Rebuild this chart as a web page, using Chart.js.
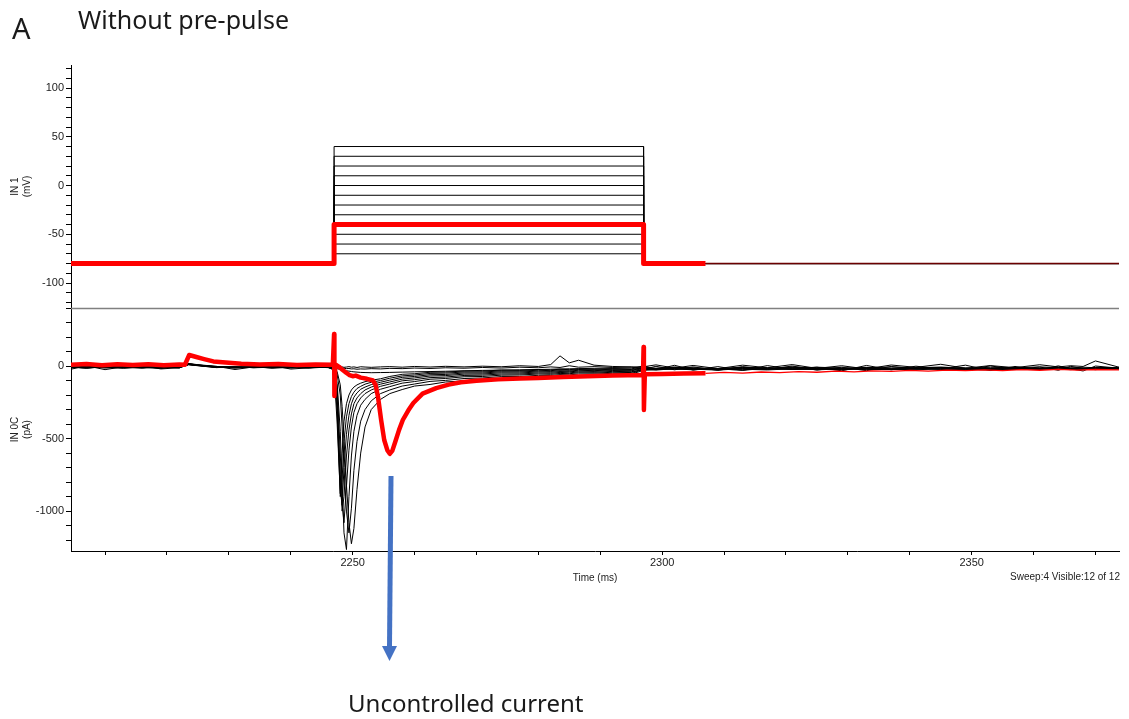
<!DOCTYPE html>
<html>
<head>
<meta charset="utf-8">
<title>Without pre-pulse</title>
<script src="https://cdn.jsdelivr.net/npm/chart.js@4.4.1/dist/chart.umd.min.js"></script>
<style>
  html, body { margin: 0; padding: 0; background: #fff; }
  #wrap { position: relative; width: 1129px; height: 719px; overflow: hidden; }
  #chart { position: absolute; left: 0; top: 0; }
  .label { position: absolute; white-space: nowrap; color: #1a1a1a; line-height: 1; }
  .big { font-family: "Noto Sans", sans-serif; }
  .small { font-family: "Liberation Sans", Arial, sans-serif; font-size: 10px; color: #222; }
  svg { position: absolute; left: 0; top: 0; }
</style>
</head>
<body>
<div id="wrap">
  <canvas id="chart" width="1129" height="719"></canvas>
  <div class="label big" style="left:12px; top:13px; font-size:29px;">A</div>
  <div class="label big" style="left:78px; top:7px; font-size:25px;">Without pre-pulse</div>
  <div class="label big" style="left:348px; top:691px; font-size:24px;">Uncontrolled current</div>
  <div class="label small" style="right:9px; top:572px;">Sweep:4 Visible:12 of 12</div>
  <svg width="1129" height="719">
    <line x1="391" y1="476" x2="389.5" y2="647" stroke="#4472C4" stroke-width="5"/>
    <polygon points="382,646 397,646 389.5,661" fill="#4472C4"/>
  </svg>
</div>

<script>
// ---- data ----

// x axis range (ms)
const timeMinMs = 2204.5;
const timeMaxMs = 2373.8;

// voltage protocol: holding -80 mV, 50 ms steps from -70 to +40 mV (12 sweeps)
const holdingMv = -80;
const stepOnMs = 2247;
const stepOffMs = 2297;
const stepLevelsMv = [-70, -60, -50, -40, -30, -20, -10, 0, 10, 20, 30, 40];
const highlightedSweep = 4; // sweep 4 = -40 mV, drawn in red
const highlightEndMs = 2307; // red drawn thick up to here, thin after

// shared time base for the black current sweeps (ms)
const sweepTimeMs = [
  2204.5, 2207, 2210, 2213, 2216, 2219, 2222, 2223.5, 2225, 2228, 2231, 2234, 2237, 2240, 2243, 2246,
  2247, 2247.5, 2248, 2248.3, 2248.6, 2249, 2249.4, 2249.8, 2250.2, 2250.7, 2251.3, 2252, 2253, 2254.5,
  2256, 2258, 2260, 2262.5, 2265, 2268, 2271, 2274, 2277, 2280, 2282, 2283.5, 2285, 2286.5, 2289, 2292, 2295,
  2297, 2299, 2302, 2305, 2309, 2313, 2317, 2321, 2325, 2329, 2333, 2337, 2341, 2345, 2349, 2353, 2357, 2361, 2364, 2366, 2368, 2370, 2373.8
];

// current (pA) for each black sweep, named by step level (mV)
const currentM70 = [
  -6, -10, -3, -8, -12, -4, -7, 10, 4, -3, -9, -5, -11, -6, -8, -4,
  -8, -5, -10, -6, -9, -7, -4, -8, -6, -10, -5, -7, -9, -6,
  -4, -8, -3, -7, -2, -6, -1, -5, 2, -3, 10, 70, 22, 40, 6, -3, -6,
  -5, 8, -14, 4, -18, 6, -12, 10, -16, 2, -20, 7, -9, 12, -15, 3, -11, 9, -6, 2, -3, 35, -8
];
const currentM60 = [
  -22, 2, -25, -4, 3, -20, -12, 18, 9, -2, -24, -6, 4, -21, -12, -3,
  -10, -12, -14, -16, -15, -18, -17, -20, -19, -22, -20, -21, -18, -20,
  -16, -18, -14, -17, -12, -15, -10, -14, -8, -12, -6, -10, 2, -8, -4, -10, -7,
  -22, -2, -26, -6, -30, -4, -24, 0, -28, -8, -32, -3, -20, -10, -27, 1, -23, -7, -29, -2, -18, -25, -9
];
const currentM50 = [
  -8, -14, -6, -12, -9, -15, -4, 16, 6, -8, -12, -6, -14, -9, -5, -11,
  -12, -18, -24, -28, -30, -33, -35, -38, -40, -42, -44, -45, -46, -45,
  -44, -42, -40, -38, -36, -33, -30, -28, -26, -24, -22, -20, -19, -18, -16, -15, -14,
  -10, -15, -8, -13, -17, -9, -12, -16, -8, -14, -11, -7, -13, -10, -15, -9, -12, -6, -11, -14, -8, -12, -10
];
const currentM30 = [
  -10, -4, -12, -7, -9, -14, -6, 14, 7, -5, -10, -8, -4, -11, -7, -9,
  -15, -40, -130, -280, -500, -820, -1080, -1225, -1120, -850, -600, -420, -300, -230,
  -190, -162, -138, -127, -110, -102, -90, -88, -78, -77, -71, -72, -66, -67, -61, -62, -56,
  -30, -24, -20, -26, -18, -22, -27, -19, -23, -17, -25, -21, -16, -24, -20, -18, -23, -15, -21, -19, -24, -17, -20
];
const currentM20 = [
  -7, -13, -5, -10, -14, -8, -11, 12, 5, -9, -4, -12, -8, -13, -6, -10,
  -15, -60, -200, -420, -700, -1000, -1150, -980, -720, -520, -380, -300, -240, -190,
  -165, -138, -124, -106, -99, -86, -82, -73, -72, -64, -65, -59, -61, -55, -56, -50, -52,
  -22, -28, -18, -25, -20, -29, -16, -24, -21, -27, -17, -23, -26, -19, -22, -28, -18, -24, -20, -25, -16, -23, -21
];
const currentM10 = [
  -11, -5, -9, -13, -6, -10, -8, 15, 8, -6, -11, -7, -12, -5, -9, -8,
  -20, -120, -450, -800, -1150, -1265, -900, -620, -450, -340, -270, -230, -190, -160,
  -142, -118, -107, -91, -86, -74, -72, -63, -62, -55, -57, -51, -53, -47, -49, -43, -45,
  -19, -25, -15, -22, -28, -18, -23, -14, -26, -20, -17, -24, -21, -15, -27, -19, -22, -16, -25, -18, -23, -20, -17
];
const currentP0 = [
  -9, -12, -6, -10, -8, -13, -5, 10, 3, -10, -6, -11, -7, -9, -12, -6,
  -20, -150, -600, -950, -1080, -830, -580, -420, -320, -260, -220, -190, -165, -140,
  -124, -102, -94, -80, -76, -65, -63, -55, -55, -48, -50, -44, -47, -41, -43, -37, -39,
  -26, -18, -23, -15, -21, -27, -17, -24, -19, -14, -22, -25, -18, -20, -15, -24, -21, -17, -23, -19, -14, -22, -18
];
const currentP10 = [
  -5, -11, -8, -4, -12, -7, -10, 13, 6, -4, -9, -6, -13, -8, -5, -10,
  -20, -200, -750, -1000, -900, -620, -440, -330, -260, -220, -190, -165, -145, -125,
  -110, -90, -82, -69, -66, -56, -55, -47, -48, -41, -43, -38, -40, -35, -37, -31, -33,
  -17, -23, -13, -20, -25, -16, -21, -12, -19, -24, -15, -22, -18, -13, -20, -23, -16, -21, -14, -19, -24, -15, -18
];
const currentP20 = [
  -13, -7, -10, -15, -5, -9, -12, 11, 4, -7, -13, -9, -6, -10, -14, -7,
  -25, -260, -850, -960, -700, -470, -340, -260, -215, -185, -160, -145, -128, -112,
  -97, -78, -72, -60, -58, -48, -48, -40, -41, -35, -37, -32, -35, -29, -32, -26, -29,
  -14, -20, -11, -18, -23, -13, -19, -9, -17, -22, -12, -19, -15, -10, -18, -21, -13, -19, -11, -16, -21, -12, -15
];
const currentP30 = [
  -8, -14, -5, -9, -11, -6, -13, 9, 2, -11, -5, -10, -8, -12, -6, -9,
  -25, -320, -900, -780, -520, -350, -260, -210, -180, -155, -140, -125, -112, -100,
  -84, -68, -62, -51, -49, -41, -41, -34, -35, -29, -32, -26, -29, -24, -27, -22, -24,
  -11, -17, -8, -15, -19, -10, -16, -6, -14, -18, -9, -16, -12, -7, -15, -18, -10, -16, -8, -13, -18, -9, -12
];
const currentP40 = [
  -10, -6, -13, -8, -4, -12, -7, 12, 5, -8, -12, -4, -10, -7, -11, -5,
  -30, -400, -880, -600, -380, -260, -200, -165, -145, -130, -118, -108, -98, -88,
  -72, -57, -53, -43, -42, -34, -35, -28, -30, -24, -27, -22, -25, -20, -23, -18, -21,
  2, -24, 5, -28, -4, -30, 3, -22, -8, -33, 4, -26, -1, -20, 6, -31, -3, -25, 1, -19, -34, 0, -15
];
const blackSweepCurrents = [currentM70, currentM60, currentM50, currentM30, currentM20, currentM10,
  currentP0, currentP10, currentP20, currentP30, currentP40];

// sweep 4 (-40 mV): delayed, uncontrolled inward current
const redTimeMs = [
  2204.5, 2207, 2209.5, 2212, 2214.5, 2217, 2219.5, 2222, 2222.9, 2223.6, 2224.6, 2226, 2227.5, 2229.5, 2232, 2235, 2238, 2241, 2244, 2246.8,
  2247, 2247.05, 2247.2, 2247.8, 2248.4, 2249, 2249.5, 2250, 2250.5, 2251.3, 2252.3, 2253.3, 2253.7, 2254.1, 2254.6, 2255.1, 2255.6, 2256,
  2256.4, 2256.9, 2257.5, 2258.1, 2259, 2259.8, 2261.3, 2263.5, 2265.5, 2267.5, 2270, 2273.5, 2277, 2280, 2284, 2288, 2292, 2296.9,
  2297, 2297.05, 2297.2, 2300, 2303.5, 2307,
  2310, 2313, 2316, 2319, 2322, 2325, 2328, 2331, 2334, 2337, 2340, 2343, 2346, 2349, 2352, 2355, 2358, 2361, 2364, 2367, 2370, 2373.8
];
const redCurrentPa = [
  8, 14, 5, 12, 7, 13, 6, 10, 9, 76, 64, 48, 32, 24, 15, 10, 14, 7, 11, 8,
  220, -207, 12, -5, -28, -48, -62, -70, -66, -80, -88, -100, -130, -214, -372, -510, -580, -605,
  -585, -520, -440, -372, -305, -255, -190, -152, -128, -112, -102, -92, -86, -82, -76, -70, -66, -62,
  131, -303, -56, -55, -52, -50,
  -44, -49, -41, -46, -38, -43, -35, -40, -33, -37, -30, -35, -28, -32, -26, -31, -25, -29, -23, -28, -24, -27
];

// axis ranges and tick steps
const voltageRangeMv = [-125.6, 123.6];
const currentRangePa = [-1275, 400];
const voltageTickStep = 10, voltageLabelEvery = 50;
const currentTickStep = 100, currentLabelEvery = 500;
const timeTickStep = 10, timeLabelEvery = 50;

// ---- helpers ----

function toPoints(times, values) {
  return times.map((t, i) => ({ x: t, y: values[i] }));
}

function stepTrace(levelMv, endMs) {
  const times = [timeMinMs, stepOnMs, stepOnMs, stepOffMs, stepOffMs, endMs];
  const values = [holdingMv, holdingMv, levelMv, levelMv, holdingMv, holdingMv];
  return toPoints(times, values);
}

function line(data, axis, color, width) {
  return {
    data: data,
    yAxisID: axis,
    borderColor: color,
    borderWidth: width,
    pointRadius: 0,
    fill: false,
    tension: 0,
    borderJoinStyle: 'round'
  };
}

function labelEvery(every) {
  return function (value) {
    return Math.abs(value % every) < 1e-6 ? String(value) : '';
  };
}

// ---- datasets (red first so it is drawn on top) ----

const redLevel = stepLevelsMv[highlightedSweep - 1];
const redPoints = toPoints(redTimeMs, redCurrentPa);
const datasets = [
  line(stepTrace(redLevel, highlightEndMs), 'yV', '#ff0000', 5),
  line(redPoints.filter(p => p.x <= highlightEndMs), 'yI', '#ff0000', 4.5),
  line(toPoints([highlightEndMs, timeMaxMs], [holdingMv, holdingMv]), 'yV', '#6b0000', 1.5),
  line(redPoints.filter(p => p.x >= highlightEndMs), 'yI', '#ff0000', 1.3)
];
stepLevelsMv.forEach((level, i) => {
  if (i === highlightedSweep - 1) return;
  datasets.push(line(stepTrace(level, timeMaxMs), 'yV', '#000000', 1));
});
blackSweepCurrents.forEach(values => {
  datasets.push(line(toPoints(sweepTimeMs, values), 'yI', '#000000', 1));
});

// grey divider between the two panels
const panelDivider = {
  id: 'panelDivider',
  afterDraw(chart) {
    const { ctx, chartArea } = chart;
    const y = Math.round(chart.scales.yV.bottom) + 0.5;
    ctx.save();
    ctx.strokeStyle = '#808080';
    ctx.lineWidth = 1.5;
    ctx.beginPath();
    ctx.moveTo(chartArea.left, y);
    ctx.lineTo(chartArea.right, y);
    ctx.stroke();
    ctx.restore();
  }
};

const tickFont = { family: '"Liberation Sans", Arial, sans-serif', size: 11 };
const titleFont = { family: '"Liberation Sans", Arial, sans-serif', size: 10, lineHeight: 1.2 };

function yAxis(range, step, every, title) {
  return {
    type: 'linear',
    position: 'left',
    stack: 'panels',
    stackWeight: 1,
    min: range[0],
    max: range[1],
    afterFit: scale => { scale.width = 71; },
    border: { display: true, color: '#000', width: 1 },
    grid: { drawOnChartArea: false, drawTicks: true, tickLength: 5, color: '#000' },
    ticks: {
      stepSize: step,
      includeBounds: false,
      autoSkip: false,
      padding: 2,
      color: '#222',
      font: tickFont,
      callback: labelEvery(every)
    },
    title: { display: true, text: title, color: '#222', font: titleFont, padding: { top: 9, bottom: 0 } }
  };
}

new Chart(document.getElementById('chart'), {
  type: 'line',
  data: { datasets: datasets },
  options: {
    responsive: false,
    animation: false,
    events: [],
    layout: { padding: { top: 65, right: 10, bottom: 131, left: 0 } },
    plugins: { legend: { display: false }, tooltip: { enabled: false } },
    scales: {
      x: {
        type: 'linear',
        min: timeMinMs,
        max: timeMaxMs,
        afterFit: scale => { scale.height = 37; },
        border: { display: true, color: '#000', width: 1 },
        grid: { drawOnChartArea: false, drawTicks: true, tickLength: 4, color: '#000' },
        ticks: {
          stepSize: timeTickStep,
          includeBounds: false,
          autoSkip: false,
          maxRotation: 0,
          padding: 1,
          color: '#222',
          font: tickFont,
          callback: labelEvery(timeLabelEvery)
        },
        title: { display: true, text: 'Time (ms)', color: '#222', font: titleFont, padding: { top: 0, bottom: 4 } }
      },
      yI: yAxis(currentRangePa, currentTickStep, currentLabelEvery, ['IN 0C', '(pA)']),
      yV: yAxis(voltageRangeMv, voltageTickStep, voltageLabelEvery, ['IN 1', '(mV)'])
    }
  },
  plugins: [panelDivider]
});
</script>
</body>
</html>
